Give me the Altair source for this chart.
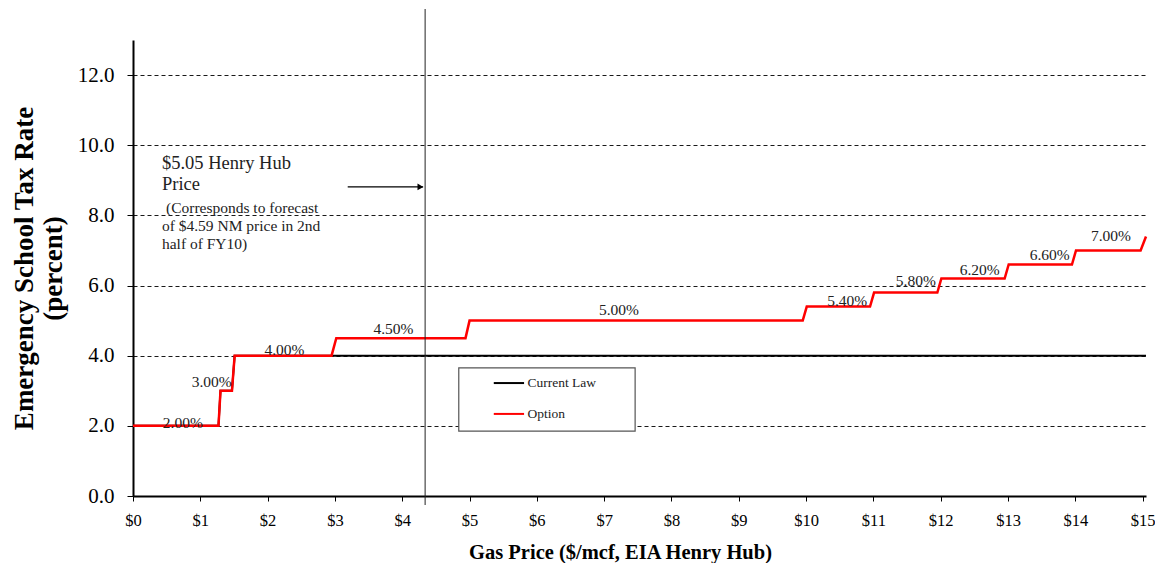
import altair as alt
import pandas as pd

FONT = "Liberation Serif"

# ---- data ----
opt_price = [0, 1.27, 1.30, 1.47, 1.51, 2.95, 3.02, 4.94, 5.00, 9.95, 10.01,
             10.95, 11.01, 11.95, 12.01, 12.95, 13.01, 13.95, 14.01, 14.97, 15.05]
opt_rate = [2.0, 2.0, 3.0, 3.0, 4.0, 4.0, 4.5, 4.5, 5.0, 5.0, 5.4,
            5.4, 5.8, 5.8, 6.2, 6.2, 6.6, 6.6, 7.0, 7.0, 7.4]
cur_price = [0, 1.27, 1.30, 1.47, 1.51, 15.05]
cur_rate = [2.0, 2.0, 3.0, 3.0, 4.0, 4.0]

step_labels = ["2.00%", "3.00%", "4.00%", "4.50%", "5.00%", "5.40%",
               "5.80%", "6.20%", "6.60%", "7.00%"]
step_label_price = [0.74, 1.17, 2.25, 3.87, 7.22, 10.61, 11.63, 12.58, 13.62, 14.53]
step_label_rate = [1.94, 3.11, 4.02, 4.62, 5.16, 5.42, 5.99, 6.31, 6.73, 7.27]

henry_hub_line = [4.34]

ann_big = ["$5.05 Henry Hub", "Price"]
ann_big_price = [0.43, 0.43]
ann_big_rate = [9.32, 8.72]
ann_small = ["(Corresponds to forecast", "of $4.59 NM price in 2nd", "half of FY10)"]
ann_small_price = [0.49, 0.43, 0.43]
ann_small_rate = [8.07, 7.55, 7.04]

arrow_start = [3.19]
arrow_end = [4.31]
arrow_rate = [8.81]

legend_labels = ["Current Law", "Option"]
legend_colors = ["black", "#ff0000"]
legend_rate = [3.22, 2.34]

x_ticks = list(range(16))
y_ticks = [0, 2, 4, 6, 8, 10, 12]

# ---- encodings shared by all layers ----
def X(field="price"):
    return alt.X(f"{field}:Q",
                 scale=alt.Scale(domain=[0, 15.05], nice=False, zero=False),
                 axis=alt.Axis(values=x_ticks, labelExpr="'$' + datum.value",
                               labelFontSize=16.5, labelPadding=11, tickSize=5,
                               labelFlush=False,
                               tickColor="black", domainColor="black", domainWidth=2,
                               labelColor="black", grid=False,
                               titleFontSize=20.5, titleFontWeight="bold",
                               titlePadding=14, titleX=487, titleColor="black"),
                 title="Gas Price ($/mcf, EIA Henry Hub)")

def Y(field="rate"):
    return alt.Y(f"{field}:Q",
                 scale=alt.Scale(domain=[0, 13], nice=False),
                 axis=alt.Axis(values=y_ticks, format=".1f", labelFontSize=21,
                               labelPadding=13, tickSize=6, tickColor="black",
                               domainColor="black", domainWidth=2, labelColor="black",
                               grid=True, gridColor="black", gridDash=[4, 3],
                               gridWidth=1, gridOpacity=0.9,
                               titleFontSize=27, titleFontWeight="bold",
                               titleLineHeight=29, titlePadding=10, titleColor="black"),
                 title=["Emergency School Tax Rate", "(percent)"])

cur_df = pd.DataFrame({"price": cur_price, "rate": cur_rate})
opt_df = pd.DataFrame({"price": opt_price, "rate": opt_rate})
lab_df = pd.DataFrame({"price": step_label_price, "rate": step_label_rate, "t": step_labels})
vline_df = pd.DataFrame({"price": henry_hub_line})
big_df = pd.DataFrame({"price": ann_big_price, "rate": ann_big_rate, "t": ann_big})
small_df = pd.DataFrame({"price": ann_small_price, "rate": ann_small_rate, "t": ann_small})
arrow_df = pd.DataFrame({"price": arrow_start, "price2": arrow_end, "rate": arrow_rate})
head_df = pd.DataFrame({"price": [a - 0.04 for a in arrow_end], "rate": arrow_rate})

# legend box (layout constants, in data units)
box_df = pd.DataFrame({"price": [4.84], "price2": [7.46], "rate": [1.85], "rate2": [3.65]})
leg_df = pd.DataFrame({"price": [5.36] * 2, "price2": [5.81] * 2, "tx": [5.86] * 2,
                       "rate": legend_rate, "t": legend_labels, "c": legend_colors})

base_enc = dict(x=X(), y=Y())

cur = alt.Chart(cur_df).mark_line(color="black", strokeWidth=2).encode(**base_enc)
opt = alt.Chart(opt_df).mark_line(color="#ff0000", strokeWidth=2.5).encode(**base_enc)
labels = alt.Chart(lab_df).mark_text(font=FONT, fontSize=15.5, color="#222",
                                     baseline="alphabetic", align="center").encode(
    x=X(), y=Y(), text="t:N")
vline = alt.Chart(vline_df).mark_rule(color="#222", strokeWidth=1).encode(
    x=X(), y=alt.value(-31), y2=alt.value(465))
big = alt.Chart(big_df).mark_text(font=FONT, fontSize=18.5, color="#222",
                                  baseline="alphabetic", align="left").encode(
    x=X(), y=Y(), text="t:N")
small = alt.Chart(small_df).mark_text(font=FONT, fontSize=15.5, color="#222",
                                      baseline="alphabetic", align="left").encode(
    x=X(), y=Y(), text="t:N")
arrow = alt.Chart(arrow_df).mark_rule(color="black", strokeWidth=1.2).encode(
    x=X(), x2="price2:Q", y=Y())
head = alt.Chart(head_df).mark_point(shape="triangle-right", filled=True, color="black",
                                     size=45, opacity=1).encode(x=X(), y=Y())
box = alt.Chart(box_df).mark_rect(fill="white", stroke="#555", strokeWidth=1.2).encode(
    x=X(), x2="price2:Q", y=Y(), y2="rate2:Q")
leg_lines = alt.Chart(leg_df).mark_rule(strokeWidth=2).encode(
    x=X(), x2="price2:Q", y=Y(),
    color=alt.Color("c:N", scale=None, legend=None))
leg_text = alt.Chart(leg_df).mark_text(font=FONT, fontSize=13.5, color="#222",
                                       baseline="middle", align="left").encode(
    x=X("tx"), y=Y(), text="t:N")

chart = alt.layer(cur, opt, vline, arrow, head, labels, big, small,
                  box, leg_lines, leg_text).properties(
    width=1013, height=456,
    autosize=alt.AutoSizeParams(type="none"),
    padding={"left": 125, "top": 32, "right": 9, "bottom": 67},
    background="white",
).configure(font=FONT).configure_view(stroke=None)

chart.save("out.html", embed_options={"renderer": "svg", "actions": False})
